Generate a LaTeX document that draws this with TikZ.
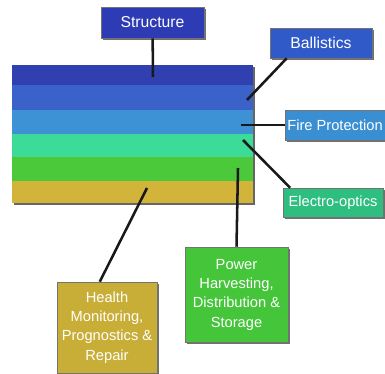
\documentclass[tikz,border=0pt]{standalone}
\usepackage{fontspec}
\setmainfont{Liberation Sans}
\usetikzlibrary{positioning, shadows}

\definecolor{layerA}{HTML}{3040B0}
\definecolor{layerB}{HTML}{3B62C8}
\definecolor{layerC}{HTML}{3C92D4}
\definecolor{layerD}{HTML}{3CDB98}
\definecolor{layerE}{HTML}{4CC93B}
\definecolor{layerF}{HTML}{D2B43A}
\definecolor{structcol}{HTML}{2D3CB4}
\definecolor{ballcol}{HTML}{2F5AC8}
\definecolor{firecol}{HTML}{3A8ED2}
\definecolor{eocol}{HTML}{2DBE80}
\definecolor{powercol}{HTML}{45C53A}
\definecolor{healthcol}{HTML}{C8AE36}

\begin{document}
\begin{tikzpicture}[x=0.75pt,y=-0.75pt,
    stripe/.style={rectangle,minimum width=180.75pt,inner sep=0pt,outer sep=0pt,
        drop shadow={shadow xshift=1.5pt,shadow yshift=-1.5pt,fill=black!75,opacity=0.8}},
    tag/.style={rectangle,draw=black!55,text=white,align=center,inner sep=1pt,
        font=\fontsize{11}{14.5}\selectfont,
        drop shadow={shadow xshift=1.5pt,shadow yshift=-1.5pt,fill=black!75,opacity=0.75}},
    link/.style={draw=black!90,line width=1.9pt}]
    \useasboundingbox (0,0) rectangle (385,374);

    % layered block
    \node[stripe,fill=layerA,minimum height=15pt,anchor=north west] (s1) at (12,65) {};
    \node[stripe,fill=layerB,minimum height=18.75pt] (s2) [below=0pt of s1] {};
    \node[stripe,fill=layerC,minimum height=18pt] (s3) [below=0pt of s2] {};
    \node[stripe,fill=layerD,minimum height=17.25pt] (s4) [below=0pt of s3] {};
    \node[stripe,fill=layerE,minimum height=18pt] (s5) [below=0pt of s4] {};
    \node[stripe,fill=layerF,minimum height=16.5pt] (s6) [below=0pt of s5] {};

    % labels
    \node[tag,fill=structcol,minimum width=77.25pt,minimum height=23.25pt,font=\fontsize{11.8}{14.5}\selectfont] (struct) at (152.5,22.5) {Structure};
    \node[tag,fill=ballcol,minimum width=76.5pt,minimum height=22.5pt,font=\fontsize{11.8}{14.5}\selectfont] (ball) at (321,43) {Ballistics};
    \node[tag,fill=firecol,minimum width=75pt,minimum height=22.5pt] (fire) at (335,125) {Fire Protection};
    \node[tag,fill=eocol,minimum width=75pt,minimum height=21.75pt] (eo) at (333,202.5) {Electro-optics};
    \node[tag,fill=powercol,minimum width=77.25pt,minimum height=71.25pt] (power) at (236.5,294.5) {Power\\Harvesting,\\Distribution \&\\Storage};
    \node[tag,fill=healthcol,minimum width=75pt,minimum height=68.25pt] (health) at (107,327.5) {Health\\Monitoring,\\Prognostics \&\\Repair};

    % ends inside the layers
    \coordinate (tipstruct) at (153,77);
    \coordinate (tipball) at (247,100);
    \coordinate (tipfire) at (241,125);
    \coordinate (tipeo) at (243,140);
    \coordinate (tippower) at (238,168);
    \coordinate (tiphealth) at (147,188);

    \path[link] (struct) edge (tipstruct)
          (ball.204) edge (tipball)
          (fire.west) edge (tipfire)
          (eo.161) edge (tipeo)
          (power.north) edge (tippower)
          (health.99) edge (tiphealth);
\end{tikzpicture}
\end{document}
